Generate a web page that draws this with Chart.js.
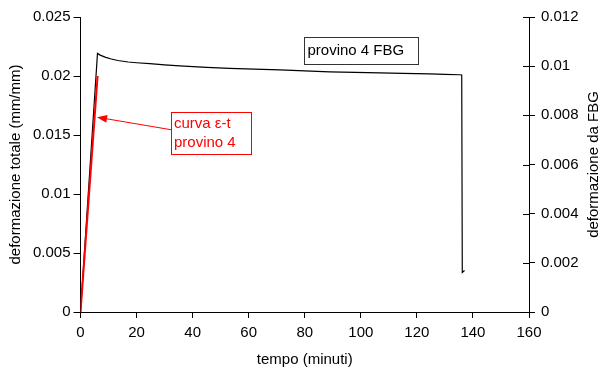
<!DOCTYPE html>
<html><head><meta charset="utf-8">
<script src="https://cdn.jsdelivr.net/npm/chart.js@4/dist/chart.umd.min.js"></script>
<style>html,body{margin:0;padding:0;background:#fff}</style>
</head><body>
<canvas id="c" width="601" height="372"></canvas>
<script>
// ---- data ----
const fbgTime   = [0, 6.06, 7, 9, 11, 13.3, 17, 20, 24.7, 30, 35.4, 45, 53.2, 62, 71.1, 80, 88.9, 98, 106.7, 115, 124.5, 130, 135.2, 136.0, 136.2, 137.0];
const fbgStrain = [0, 0.01052, 0.01045, 0.01036, 0.01029, 0.01023, 0.01017, 0.01014, 0.01010, 0.01005, 0.01001, 0.00995, 0.00991, 0.00988, 0.00985, 0.00981, 0.00977, 0.00975, 0.00973, 0.00971, 0.00969, 0.00967, 0.00965, 0.00964, 0.00161, 0.00169];
const curveTime   = [0, 6.1];
const curveStrain = [0, 0.0200];
const xTicks = [0, 20, 40, 60, 80, 100, 120, 140, 160];
const xLabels = ['0','20','40','60','80','100','120','140','160'];
const yLeftTicks = [0, 0.005, 0.01, 0.015, 0.02, 0.025];
const yLeftLabels = ['0','0.005','0.01','0.015','0.02','0.025'];
const yRightTicks = [0, 0.002, 0.004, 0.006, 0.008, 0.01, 0.012];
const yRightLabels = ['0','0.002','0.004','0.006','0.008','0.01','0.012'];
const xTitle = 'tempo (minuti)';
const yLeftTitle = 'deformazione totale (mm/mm)';
const yRightTitle = 'deformazione da FBG';
const fbgBoxText = 'provino 4 FBG';
const curveBoxLines = ['curva \u03b5-t', 'provino 4'];

const FONT = {family: 'Liberation Sans, Arial, sans-serif', size: 15};
const toPts = (xs, ys) => xs.map((x, i) => ({x: x, y: ys[i]}));
const tickObjs = arr => arr.map(v => ({value: v}));
const labelFor = (ticks, labels) => (v) => { const i = ticks.findIndex(t => Math.abs(t - v) < 1e-9); return i >= 0 ? labels[i] : ''; };

const annot = {
  id: 'annot',
  afterDraw(chart) {
    const {ctx, chartArea, scales} = chart;
    const x = scales.x, yl = scales.y, yr = scales.y1;
    ctx.save();
    // inner part of right-axis ticks (crossing)
    ctx.strokeStyle = '#000'; ctx.lineWidth = 1;
    yRightTicks.forEach(v => {
      const py = Math.round(yr.getPixelForValue(v)) + 0.5;
      ctx.beginPath(); ctx.moveTo(chartArea.right - 6, py); ctx.lineTo(chartArea.right, py); ctx.stroke();
    });
    // right axis title
    ctx.fillStyle = '#000';
    ctx.font = FONT.size + 'px ' + FONT.family;
    ctx.textAlign = 'center'; ctx.textBaseline = 'middle';
    ctx.translate(594, (chartArea.top + chartArea.bottom) / 2);
    ctx.rotate(-Math.PI / 2);
    ctx.fillText(yRightTitle, 0, 0);
    ctx.restore();

    ctx.save();
    // FBG label box
    const bx0 = Math.round(x.getPixelForValue(79.7)) + 0.5, bx1 = Math.round(x.getPixelForValue(120.4)) + 0.5;
    const by0 = Math.round(yl.getPixelForValue(0.02328)) + 0.5, by1 = Math.round(yl.getPixelForValue(0.02102)) + 0.5;
    ctx.fillStyle = '#fff'; ctx.fillRect(bx0, by0, bx1 - bx0, by1 - by0);
    ctx.strokeStyle = '#333'; ctx.lineWidth = 1; ctx.strokeRect(bx0, by0, bx1 - bx0, by1 - by0);
    ctx.fillStyle = '#000'; ctx.font = FONT.size + 'px ' + FONT.family;
    ctx.textAlign = 'left'; ctx.textBaseline = 'middle';
    ctx.fillText(fbgBoxText, bx0 + 3, (by0 + by1) / 2);

    // curve label box
    const cx0 = Math.round(x.getPixelForValue(32.4)) + 0.5, cx1 = Math.round(x.getPixelForValue(60.7)) + 0.5;
    const cy0 = Math.round(yl.getPixelForValue(0.01693)) + 0.5, cy1 = Math.round(yl.getPixelForValue(0.01338)) + 0.5;
    ctx.fillStyle = '#fff'; ctx.fillRect(cx0, cy0, cx1 - cx0, cy1 - cy0);
    ctx.strokeStyle = '#ff0000'; ctx.strokeRect(cx0, cy0, cx1 - cx0, cy1 - cy0);
    ctx.fillStyle = '#ff0000';
    ctx.fillText(curveBoxLines[0], cx0 + 2.5, cy0 + 11);
    ctx.fillText(curveBoxLines[1], cx0 + 2.5, cy0 + 30);

    // arrow
    const ax0 = cx0, ay0 = yl.getPixelForValue(0.01544);
    const ax1 = x.getPixelForValue(5.9), ay1 = yl.getPixelForValue(0.01651);
    const ang = Math.atan2(ay1 - ay0, ax1 - ax0);
    const hl = 10, hw = 4;
    ctx.strokeStyle = '#ff0000'; ctx.lineWidth = 1;
    ctx.beginPath(); ctx.moveTo(ax0, ay0);
    ctx.lineTo(ax1 - hl * Math.cos(ang), ay1 - hl * Math.sin(ang)); ctx.stroke();
    ctx.beginPath();
    ctx.moveTo(ax1, ay1);
    ctx.lineTo(ax1 - hl * Math.cos(ang) + hw * Math.sin(ang), ay1 - hl * Math.sin(ang) - hw * Math.cos(ang));
    ctx.lineTo(ax1 - hl * Math.cos(ang) - hw * Math.sin(ang), ay1 - hl * Math.sin(ang) + hw * Math.cos(ang));
    ctx.closePath(); ctx.fillStyle = '#ff0000'; ctx.fill();
    ctx.restore();
  }
};

new Chart(document.getElementById('c'), {
  type: 'line',
  data: {
    datasets: [
      {label: 'curva', data: toPts(curveTime, curveStrain), yAxisID: 'y', borderColor: '#ff0000', borderWidth: 2, pointRadius: 0, tension: 0, order: 0},
      {label: 'FBG', data: toPts(fbgTime, fbgStrain), yAxisID: 'y1', borderColor: '#000', borderWidth: 1.2, pointRadius: 0, tension: 0, order: 1}
    ]
  },
  options: {
    responsive: false, animation: false, parsing: true,
    layout: {padding: {top: 17, left: 0, right: 0, bottom: 0}},
    plugins: {legend: {display: false}, tooltip: {enabled: false}},
    scales: {
      x: {
        type: 'linear', min: 0, max: 160,
        afterBuildTicks: s => { s.ticks = tickObjs(xTicks); },
        afterFit: s => { s.height = 60; },
        ticks: {font: FONT, color: '#000', padding: 6, maxRotation: 0, autoSkip: false, callback: labelFor(xTicks, xLabels)},
        grid: {drawOnChartArea: false, color: '#000', tickLength: 6},
        border: {color: '#000', width: 1},
        title: {display: true, text: xTitle, font: FONT, color: '#000', padding: {top: 0, bottom: 3}}
      },
      y: {
        type: 'linear', position: 'left', min: 0, max: 0.025,
        afterBuildTicks: s => { s.ticks = tickObjs(yLeftTicks); },
        afterFit: s => { s.width = 80.5; },
        ticks: {font: FONT, color: '#000', padding: 3, autoSkip: false, callback: labelFor(yLeftTicks, yLeftLabels)},
        grid: {drawOnChartArea: false, color: '#000', tickLength: 7},
        border: {color: '#000', width: 1},
        title: {display: true, text: yLeftTitle, font: FONT, color: '#000', padding: {top: 7, bottom: 0}}
      },
      y1: {
        type: 'linear', position: 'right', min: 0, max: 0.012,
        afterBuildTicks: s => { s.ticks = tickObjs(yRightTicks); },
        afterFit: s => { s.width = 72; },
        ticks: {font: FONT, color: '#000', padding: 6, autoSkip: false, callback: labelFor(yRightTicks, yRightLabels)},
        grid: {drawOnChartArea: false, color: '#000', tickLength: 6},
        border: {color: '#000', width: 1}
      }
    }
  },
  plugins: [annot]
});
</script>
</body></html>
